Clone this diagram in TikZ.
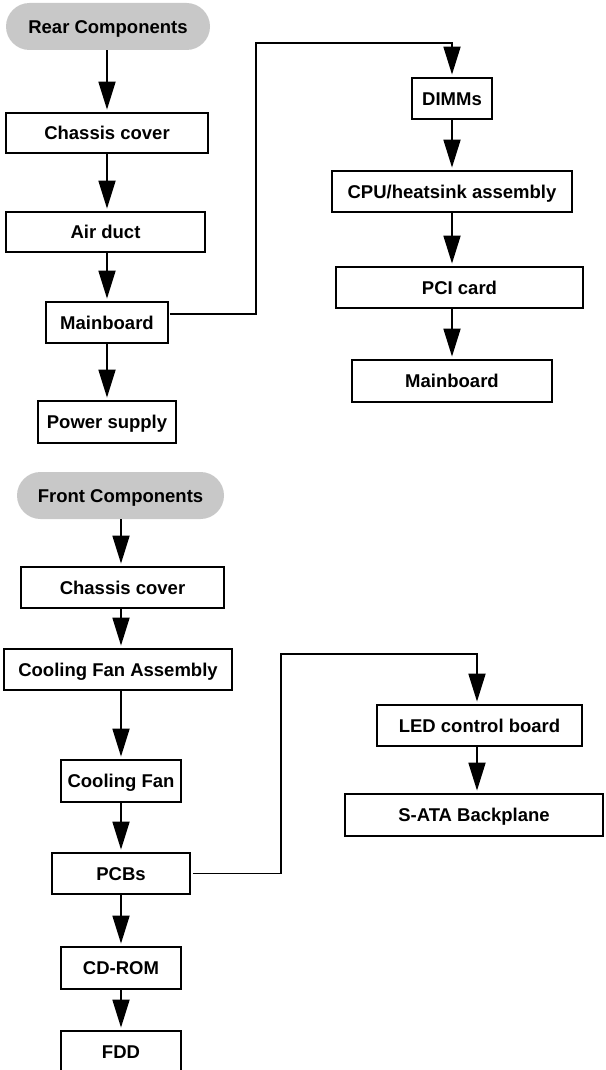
\documentclass[tikz,border=0pt]{standalone}
\usepackage{fontspec}
\setmainfont{Liberation Sans}
\usetikzlibrary{arrows.meta,calc}
\definecolor{pillgray}{RGB}{200,200,200}

\begin{document}
\begin{tikzpicture}[x=1pt,y=-1pt,
  every node/.style={font=\fontsize{18.5}{20}\selectfont\bfseries, text=black,
    inner sep=0pt, text height=13.5pt, text depth=0pt},
  box/.style={draw=black, line width=1.8pt, fill=white, rectangle},
  pill/.style={fill=pillgray, rectangle, rounded corners=23.5pt},
  flow/.style={line width=1.8pt, -{Triangle[length=28pt,width=17pt]}, shorten >=2.5pt},
  link/.style={line width=1.8pt}]

\useasboundingbox (0,0) rectangle (605,1070);
\clip (0,0) rectangle (605,1070);

% column positions of the vertical arrows
\coordinate (colA) at (107,0);
\coordinate (colB) at (452,0);
\coordinate (colC) at (121,0);
\coordinate (colD) at (477,0);

% ---------------- rear components ----------------
\node[pill, minimum width=204, minimum height=47] (rpill) at (108,26.5) {Rear Components};
\node[box, minimum width=202, minimum height=40] (rcc)  at (107,133)   {Chassis cover};
\node[box, minimum width=199, minimum height=40] (rair) at (105.5,232) {Air duct};
\node[box, minimum width=122, minimum height=41] (rmb)  at (107,322.5) {Mainboard};
\node[box, minimum width=138, minimum height=42] (rps)  at (107,422)   {Power supply};

\node[box, minimum width=80,  minimum height=41] (dimm) at (452,98.5)  {DIMMs};
\node[box, minimum width=240, minimum height=41] (cpu)  at (452,191.5) {CPU/heatsink assembly};
\node[box, minimum width=247, minimum height=41] (pci)  at (459.5,287.5) {PCI card};
\node[box, minimum width=200, minimum height=42] (rmb2) at (452,381)   {Mainboard};

\draw[flow] (rpill.south -| colA) -- (rcc.north -| colA);
\draw[flow] (rcc.south -| colA)   -- (rair.north -| colA);
\draw[flow] (rair.south -| colA)  -- (rmb.north -| colA);
\draw[flow] (rmb.south -| colA)   -- (rps.north -| colA);

\coordinate (rmbout) at ($(rmb.north east)!0.3!(rmb.south east)+(1,0)$);
\coordinate (rturn) at (256,43);
\draw[flow] (rmbout) -| (rturn) -| (dimm.north -| colB);

\draw[flow] (dimm.south -| colB) -- (cpu.north -| colB);
\draw[flow] (cpu.south -| colB)  -- (pci.north -| colB);
\draw[flow] (pci.south -| colB)  -- (rmb2.north -| colB);

% ---------------- front components ----------------
\node[pill, minimum width=207, minimum height=47] (fpill) at (120.5,495.5) {Front Components};
\node[box, minimum width=203, minimum height=41] (fcc) at (122.5,587.5) {Chassis cover};
\node[box, minimum width=228, minimum height=41] (cfa) at (118,669.5)   {Cooling Fan Assembly};
\node[box, minimum width=120, minimum height=42] (cf)  at (121,781)     {Cooling Fan};
\node[box, minimum width=138, minimum height=41] (pcb) at (121,873.5)   {PCBs};
\node[box, minimum width=120, minimum height=42] (cd)  at (121,968)     {CD-ROM};
\node[box, minimum width=120, minimum height=42] (fdd) at (121,1052)    {FDD};

\node[box, minimum width=205, minimum height=41] (led)  at (479.5,725.5) {LED control board};
\node[box, minimum width=258, minimum height=42] (sata) at (474,815)     {S-ATA Backplane};

\draw[flow] (fpill.south -| colC) -- (fcc.north -| colC);
\draw[flow] (fcc.south -| colC)   -- (cfa.north -| colC);
\draw[flow] (cfa.south -| colC)   -- (cf.north -| colC);
\draw[flow] (cf.south -| colC)    -- (pcb.north -| colC);
\draw[flow] (pcb.south -| colC)   -- (cd.north -| colC);
\draw[flow] (cd.south -| colC)    -- (fdd.north -| colC);

\coordinate (pcbout) at ($(pcb.east)+(2,0)$);
\coordinate (fturn) at (281,654);
\draw[flow] (pcbout) -| (fturn) -| (led.north -| colD);
\draw[flow] (led.south -| colD) -- (sata.north -| colD);

\end{tikzpicture}
\end{document}
